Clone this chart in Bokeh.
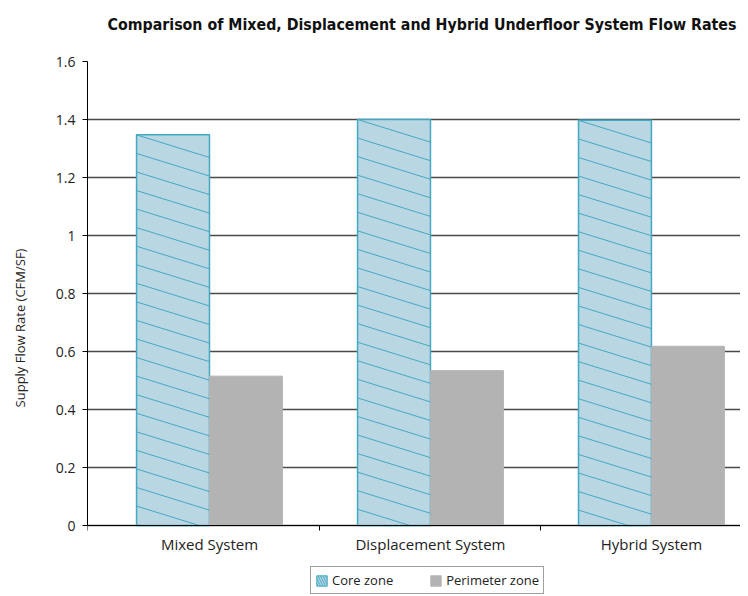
import numpy as np
from bokeh.plotting import figure
from bokeh.models import FixedTicker, Legend, LegendItem, Range1d, Title
from bokeh.embed import file_html
from bokeh.resources import INLINE

# ---- data ----
categories = ["Mixed System", "Displacement System", "Hybrid System"]
series_names = ["Core zone", "Perimeter zone"]
core_zone = [1.347, 1.400, 1.397]
perimeter_zone = [0.515, 0.534, 0.618]
y_ticks = [0, 0.2, 0.4, 0.6, 0.8, 1.0, 1.2, 1.4, 1.6]
y_tick_labels = ["0", "0.2", "0.4", "0.6", "0.8", "1", "1.2", "1.4", "1.6"]

# ---- style / layout ----
CORE_FILL = "#b8d7e3"
CORE_LINE = "#45a8c2"
PERIM_FILL = "#b3b3b3"
FONT = "Open Sans"
bar_w = 0.33
x_start, x_end = -0.552, 2.403
hatch_gap = 0.064
hatch_drop = 0.078
px_per_unit = 290.0           # vertical scale of the value axis
legend_room_px = 69           # room under the zero line for labels + legend
y_top = y_ticks[-1]
y_bottom = -legend_room_px / px_per_unit
frame_h = int(round((y_top - y_bottom) * px_per_unit))

xs = np.arange(len(categories), dtype=float)

p = figure(
    frame_width=653, frame_height=frame_h,
    x_range=Range1d(x_start, x_end), y_range=Range1d(y_bottom, y_top),
    output_backend="svg", toolbar_location=None,
    min_border_left=87, min_border_right=0,
    min_border_top=61, min_border_bottom=0,
)
p.outline_line_color = None
p.background_fill_color = "white"

p.title.text = "Comparison of Mixed, Displacement and Hybrid Underfloor System Flow Rates"
p.title.text_font = "DejaVu Sans Condensed"
p.title.text_font_style = "bold"
p.title.text_font_size = "15.8px"
p.title.text_color = "#111111"
p.title.align = "left"
p.title.vertical_align = "top"
p.title.offset = 20
p.title.standoff = 0
# spacer between title and plot area
p.add_layout(Title(text=" ", text_font_size="1px", standoff=23), "above")

# hatched copy of the core bars (drawn underneath; supplies the legend swatch)
core_legend = p.vbar(x=xs - bar_w / 2, top=core_zone, width=bar_w,
                     fill_color=CORE_FILL, line_color=CORE_LINE, line_width=1,
                     hatch_pattern="\\", hatch_color=CORE_LINE,
                     hatch_scale=5, hatch_weight=1)

# bars
core = p.vbar(x=xs - bar_w / 2, top=core_zone, width=bar_w,
              fill_color=CORE_FILL, line_color=CORE_LINE, line_width=1.5)
perim = p.vbar(x=xs + bar_w / 2, top=perimeter_zone, width=bar_w,
               fill_color=PERIM_FILL, line_color=PERIM_FILL, line_width=1)

# hatch lines inside core bars
x0s, y0s, x1s, y1s = [], [], [], []
for i, top in enumerate(core_zone):
    xl, xr = xs[i] - bar_w, xs[i]
    k = 0
    while True:
        yl = top - k * hatch_gap
        if yl <= 0:
            break
        yr = yl - hatch_drop
        if yr >= 0:
            x0s.append(xl); y0s.append(yl); x1s.append(xr); y1s.append(yr)
        else:
            x0s.append(xl); y0s.append(yl)
            x1s.append(xl + (xr - xl) * yl / hatch_drop); y1s.append(0)
        k += 1
p.segment(x0=x0s, y0=y0s, x1=x1s, y1=y1s, line_color=CORE_LINE, line_width=1)

# axes
p.xgrid.grid_line_color = None
p.ygrid.grid_line_color = "#4a4a4a"
p.ygrid.grid_line_width = 1.3
p.ygrid.ticker = FixedTicker(ticks=y_ticks)

p.yaxis.ticker = FixedTicker(ticks=y_ticks)
p.yaxis.bounds = (y_ticks[0], y_ticks[-1])
p.yaxis.major_label_overrides = dict(zip(y_ticks, y_tick_labels))
p.yaxis.axis_line_color = "black"
p.yaxis.major_tick_out = 5
p.yaxis.major_tick_in = 0
p.yaxis.minor_tick_line_color = None
p.yaxis.major_label_text_font = FONT
p.yaxis.major_label_text_font_size = "14px"
p.yaxis.major_label_text_color = "#222222"
p.yaxis.major_label_standoff = 7
p.yaxis.axis_label = "Supply Flow Rate (CFM/SF)"
p.yaxis.axis_label_text_font = FONT
p.yaxis.axis_label_text_font_style = "normal"
p.yaxis.axis_label_text_font_size = "13px"
p.yaxis.axis_label_text_color = "#222222"
p.yaxis.axis_label_standoff = 24

minor = [x_start] + [i + 0.5 for i in range(len(categories) - 1)] + [x_end]
p.xaxis.fixed_location = 0
p.xaxis.ticker = FixedTicker(ticks=list(xs), minor_ticks=minor)
p.xaxis.major_label_overrides = {float(i): c for i, c in zip(xs, categories)}
p.xaxis.axis_line_color = "black"
p.xaxis.major_tick_out = 0
p.xaxis.major_tick_in = 0
p.xaxis.minor_tick_out = 5
p.xaxis.minor_tick_in = 0
p.xaxis.minor_tick_line_color = "black"
p.xaxis.major_label_text_font = FONT
p.xaxis.major_label_text_font_size = "15px"
p.xaxis.major_label_text_color = "#222222"
p.xaxis.major_label_standoff = 3

legend = Legend(
    items=[LegendItem(label=series_names[0], renderers=[core_legend]),
           LegendItem(label=series_names[1], renderers=[perim])],
    orientation="horizontal", location=(223, 0),
    border_line_color="#404040", border_line_width=1,
    label_text_font=FONT, label_text_font_size="13px", label_text_color="#222222",
    glyph_width=13, glyph_height=13, label_standoff=4, spacing=36,
    padding=4, margin=0, label_height=14,
    background_fill_alpha=1,
)
p.add_layout(legend, "center")

open("out.html", "w").write(file_html(p, INLINE))
